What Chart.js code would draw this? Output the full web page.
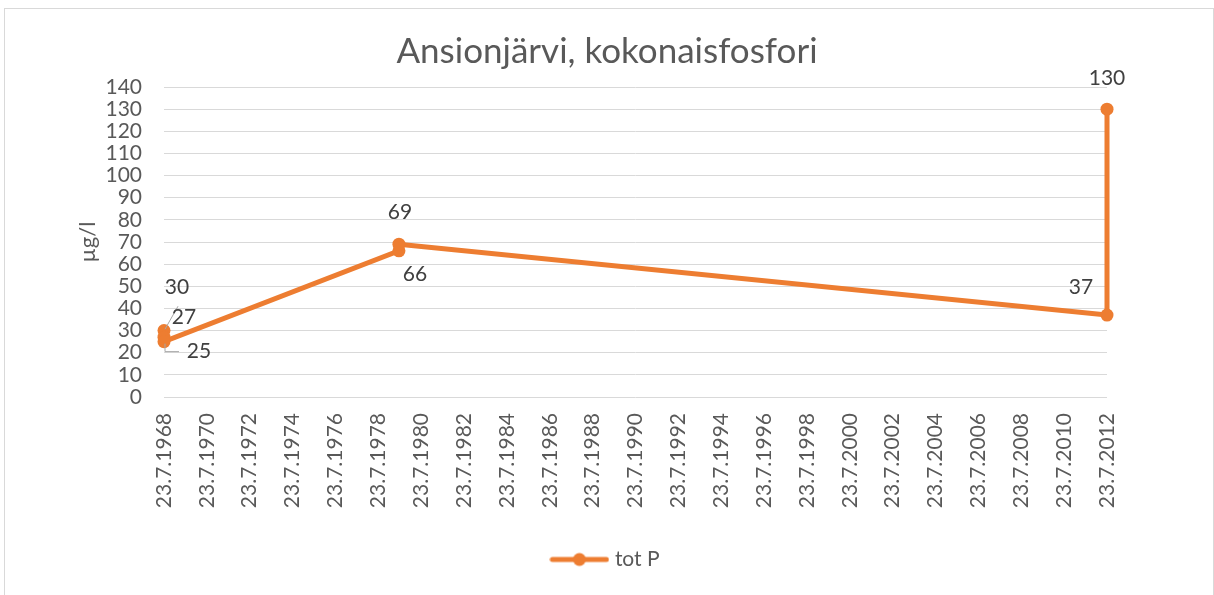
<!DOCTYPE html>
<html lang="fi">
<head>
  <meta charset="UTF-8" />
  <title>Ansionjärvi, kokonaisfosfori</title>
  <script src="https://cdn.jsdelivr.net/npm/chart.js"></script>
  <style>
    body {
      margin: 0;
      background: #fff;
      font-family: Lato, sans-serif;
    }
    .wrap {
      position: relative;
      width: 1214px;
      height: 595px;
    }
    .frame {
      position: absolute;
      left: 4px;
      top: 8px;
      width: 1208px;
      height: 600px;
      border: 1px solid #d9d9d9;
      pointer-events: none;
    }
  </style>
</head>
<body>
  <div class="wrap">
    <canvas id="kaavio" width="1214" height="595"></canvas>
    <div class="frame"></div>
  </div>

  <script>
    // näytepäivät ja kokonaisfosfori (µg/l)
    const sampleDates = ['23.7.1968', '23.7.1968', '23.7.1968', '10.7.1979', '10.7.1979', '23.7.2012', '23.7.2012'];
    const totP = [30, 27, 25, 66, 69, 37, 130];

    // x-akselin merkinnät
    const tickLabels = [
      '23.7.1968', '23.7.1970', '23.7.1972', '23.7.1974', '23.7.1976', '23.7.1978',
      '23.7.1980', '23.7.1982', '23.7.1984', '23.7.1986', '23.7.1988', '23.7.1990',
      '23.7.1992', '23.7.1994', '23.7.1996', '23.7.1998', '23.7.2000', '23.7.2002',
      '23.7.2004', '23.7.2006', '23.7.2008', '23.7.2010', '23.7.2012'
    ];

    const orange = '#ED7D31';
    const grey = '#595959';

    function parseDate(s) {
      const [d, m, y] = s.split('.').map(Number);
      return Date.UTC(y, m - 1, d);
    }

    const tickValues = tickLabels.map(parseDate);

    // legendan viiva + pallo
    const legendIcon = document.createElement('canvas');
    legendIcon.width = 60;
    legendIcon.height = 16;
    const lc = legendIcon.getContext('2d');
    lc.strokeStyle = orange;
    lc.lineWidth = 5;
    lc.lineCap = 'round';
    lc.beginPath();
    lc.moveTo(3, 8);
    lc.lineTo(57, 8);
    lc.stroke();
    lc.fillStyle = orange;
    lc.beginPath();
    lc.arc(30, 8, 6.5, 0, Math.PI * 2);
    lc.fill();

    // arvojen paikat suhteessa pisteeseen (dx, dy)
    const labelOffsets = [[13, -43], [20, -20], [35, 10], [16, 23], [1, -32], [-26, -28], [0, -31]];

    const dataLabels = {
      id: 'dataLabels',
      afterDatasetsDraw(chart) {
        const ctx = chart.ctx;
        const pts = chart.getDatasetMeta(0).data;
        ctx.save();
        // johtoviivat
        ctx.strokeStyle = '#a6a6a6';
        ctx.lineWidth = 1;
        ctx.beginPath();
        ctx.moveTo(pts[1].x + 1, pts[1].y - 8);
        ctx.lineTo(pts[1].x + 14, pts[1].y - 31);
        ctx.moveTo(pts[2].x + 1, pts[2].y + 2);
        ctx.lineTo(pts[2].x + 1, pts[2].y + 10);
        ctx.lineTo(pts[2].x + 15, pts[2].y + 10);
        ctx.stroke();

        ctx.font = '21px Lato';
        ctx.fillStyle = '#404040';
        ctx.textAlign = 'center';
        ctx.textBaseline = 'middle';
        pts.forEach((p, i) => {
          const [dx, dy] = labelOffsets[i];
          ctx.fillText(String(totP[i]), p.x + dx, p.y + dy);
        });
        ctx.restore();
      }
    };

    new Chart(document.getElementById('kaavio'), {
      type: 'line',
      data: {
        datasets: [{
          label: 'tot P',
          data: sampleDates.map((d, i) => ({ x: parseDate(d), y: totP[i] })),
          borderColor: orange,
          backgroundColor: orange,
          borderWidth: 5,
          pointRadius: 6.5,
          pointHoverRadius: 6.5,
          pointBorderWidth: 0,
          tension: 0,
          clip: false
        }]
      },
      options: {
        responsive: false,
        animation: false,
        devicePixelRatio: 1,
        layout: { padding: { left: 8, right: 8, top: 10, bottom: 15 } },
        plugins: {
          title: {
            display: true,
            text: 'Ansionjärvi, kokonaisfosfori',
            color: grey,
            font: { family: 'Lato', size: 35, weight: 'normal' },
            padding: { top: 21, bottom: 14 }
          },
          legend: {
            position: 'bottom',
            labels: {
              color: grey,
              font: { family: 'Lato', size: 21 },
              usePointStyle: true,
              pointStyleWidth: 50,
              padding: 10,
              generateLabels(chart) {
                const items = Chart.defaults.plugins.legend.labels.generateLabels(chart);
                items.forEach(it => { it.pointStyle = legendIcon; });
                return items;
              }
            }
          },
          tooltip: { enabled: false }
        },
        scales: {
          x: {
            type: 'linear',
            min: tickValues[0],
            max: tickValues[tickValues.length - 1],
            afterBuildTicks(scale) {
              scale.ticks = tickValues.map(v => ({ value: v }));
            },
            afterFit(scale) { scale.height = 142; },
            grid: { display: false },
            border: { display: false },
            ticks: {
              autoSkip: false,
              minRotation: 90,
              maxRotation: 90,
              padding: 8,
              color: grey,
              font: { family: 'Lato', size: 21 },
              callback: (v, i) => tickLabels[i]
            }
          },
          y: {
            min: 0,
            max: 140,
            afterFit(scale) { scale.width = 156; },
            grid: { color: '#d9d9d9', lineWidth: 1, drawTicks: false },
            border: { display: false },
            ticks: {
              stepSize: 10,
              autoSkip: false,
              padding: 22,
              color: grey,
              font: { family: 'Lato', size: 21 }
            },
            title: {
              display: true,
              text: 'µg/l',
              color: grey,
              font: { family: 'Lato', size: 22 },
              padding: { top: 67, bottom: 0 }
            }
          },
          tyhja: {
            position: 'right',
            display: true,
            afterFit(scale) { scale.width = 99; },
            grid: { display: false },
            border: { display: false },
            ticks: { display: false }
          }
        }
      },
      plugins: [dataLabels]
    });
  </script>
</body>
</html>
